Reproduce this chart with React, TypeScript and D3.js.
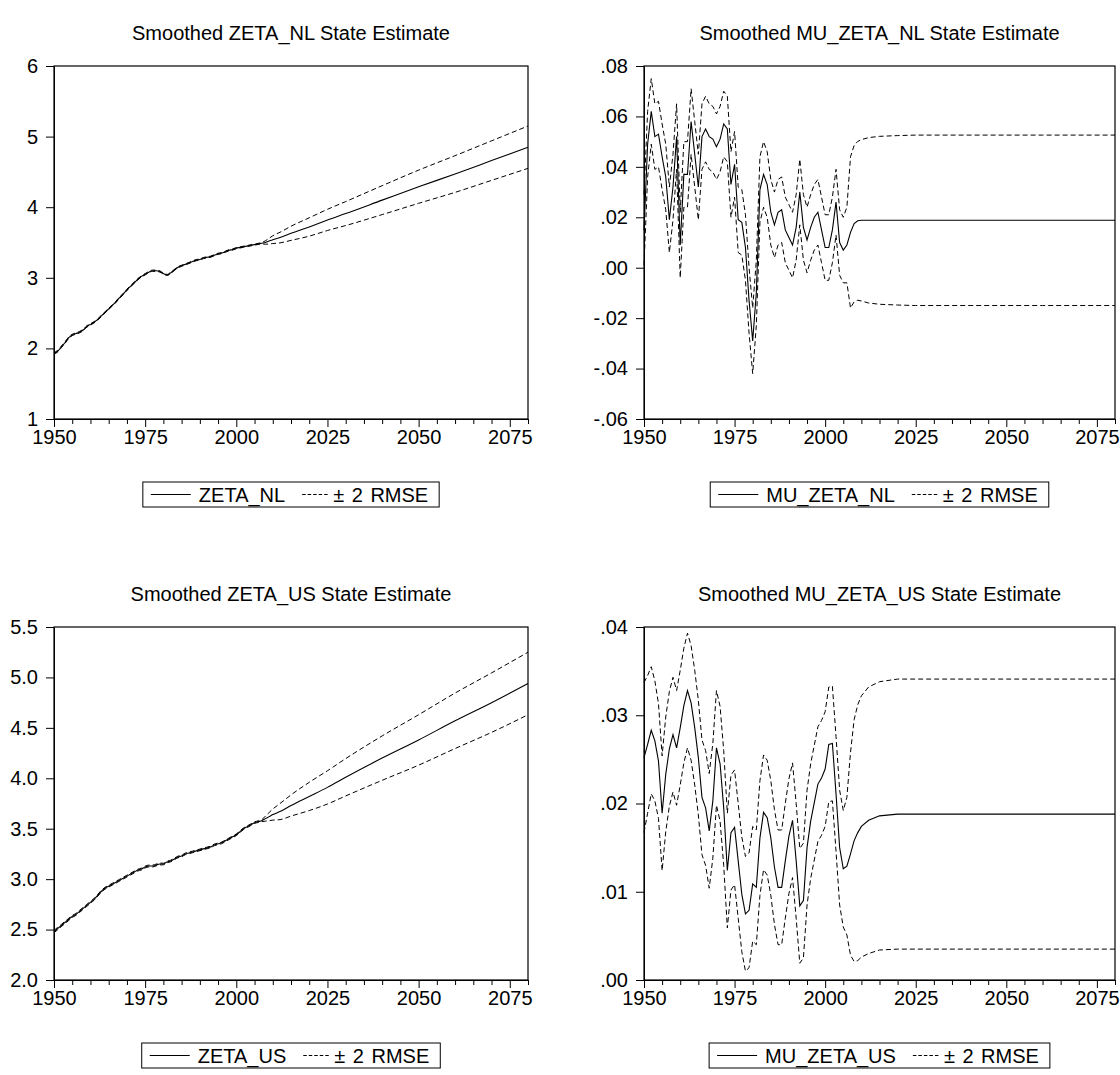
import React, { useEffect, useRef } from "react";
import * as d3 from "d3";

// annual smoothed history, then the forecast horizon
const histYears = d3.range(1950, 2009);
const forecastYears = [2009, 2010, 2012, 2015, 2020, 2025, 2030, 2040, 2050, 2060, 2070, 2080];
const years = histYears.concat(forecastYears);

const yearTicks = d3.range(1950, 2081, 5);
const yearLabels = [1950, 1975, 2000, 2025, 2050, 2075];

const zetaNlTicks = [1, 2, 3, 4, 5, 6];
const muZetaNlTicks = [-0.06, -0.04, -0.02, 0, 0.02, 0.04, 0.06, 0.08];
const zetaUsTicks = [2.0, 2.5, 3.0, 3.5, 4.0, 4.5, 5.0, 5.5];
const muZetaUsTicks = [0, 0.01, 0.02, 0.03, 0.04];

const zetaNl = [
  1.93, 1.96, 2.02, 2.08, 2.15, 2.19, 2.21, 2.23, 2.26, 2.31,
  2.34, 2.37, 2.41, 2.46, 2.51, 2.56, 2.61, 2.66, 2.72, 2.77,
  2.83, 2.88, 2.93, 2.98, 3.02, 3.05, 3.08, 3.10, 3.10, 3.09,
  3.06, 3.04, 3.07, 3.11, 3.15, 3.17, 3.19, 3.21, 3.23, 3.25,
  3.26, 3.28, 3.29, 3.30, 3.32, 3.34, 3.35, 3.37, 3.39, 3.40,
  3.42, 3.43, 3.44, 3.45, 3.46, 3.47, 3.48, 3.49, 3.50,
  3.52, 3.54, 3.57, 3.63, 3.72, 3.82, 3.91, 4.10, 4.29, 4.47, 4.66, 4.85,
];
const zetaNlRmse2 = [
  0.012, 0.012, 0.011, 0.011, 0.011, 0.010, 0.010, 0.010, 0.010, 0.010,
  0.009, 0.009, 0.009, 0.009, 0.009, 0.009, 0.009, 0.009, 0.009, 0.009,
  0.009, 0.009, 0.009, 0.009, 0.009, 0.009, 0.009, 0.009, 0.009, 0.009,
  0.008, 0.008, 0.008, 0.008, 0.008, 0.008, 0.008, 0.008, 0.008, 0.008,
  0.008, 0.008, 0.008, 0.008, 0.008, 0.008, 0.008, 0.008, 0.008, 0.008,
  0.008, 0.008, 0.008, 0.008, 0.008, 0.008, 0.008, 0.010, 0.025,
  0.04, 0.055, 0.075, 0.10, 0.13, 0.15, 0.17, 0.205, 0.235, 0.26, 0.28, 0.30,
];

const muZetaNl = [
  0.015, 0.049, 0.062, 0.052, 0.053, 0.044, 0.036, 0.019, 0.032, 0.052,
  0.009, 0.037, 0.037, 0.058, 0.045, 0.032, 0.052, 0.055, 0.052, 0.051,
  0.048, 0.051, 0.057, 0.055, 0.033, 0.041, 0.019, 0.018, 0.008, -0.013,
  -0.029, -0.010, 0.031, 0.037, 0.033, 0.022, 0.017, 0.022, 0.023, 0.015,
  0.012, 0.009, 0.016, 0.030, 0.016, 0.011, 0.016, 0.020, 0.022, 0.015,
  0.008, 0.008, 0.015, 0.026, 0.010, 0.007, 0.009, 0.014, 0.0175,
  0.0186, 0.0188, 0.0188, 0.0188, 0.0188, 0.0188, 0.0188, 0.0188, 0.0188, 0.0188, 0.0188, 0.0188,
];
const muZetaNlRmse2 = [
  0.014, 0.013, 0.013, 0.013, 0.013, 0.013, 0.013, 0.013, 0.013, 0.013,
  0.013, 0.013, 0.013, 0.013, 0.013, 0.013, 0.013, 0.013, 0.013, 0.013,
  0.013, 0.013, 0.013, 0.013, 0.013, 0.013, 0.013, 0.013, 0.013, 0.013,
  0.013, 0.013, 0.013, 0.013, 0.013, 0.013, 0.013, 0.013, 0.013, 0.013,
  0.013, 0.013, 0.013, 0.013, 0.013, 0.013, 0.013, 0.013, 0.013, 0.013,
  0.013, 0.013, 0.013, 0.013, 0.013, 0.013, 0.015, 0.030, 0.031,
  0.0315, 0.032, 0.0328, 0.0333, 0.0336, 0.0338, 0.0338, 0.0338, 0.0338, 0.0338, 0.0338, 0.0338,
];

const zetaUs = [
  2.48, 2.51, 2.54, 2.57, 2.60, 2.63, 2.65, 2.68, 2.71, 2.74,
  2.77, 2.80, 2.84, 2.88, 2.91, 2.93, 2.95, 2.97, 2.99, 3.01,
  3.03, 3.05, 3.07, 3.09, 3.10, 3.12, 3.13, 3.13, 3.14, 3.15,
  3.15, 3.17, 3.18, 3.20, 3.22, 3.23, 3.25, 3.26, 3.27, 3.28,
  3.29, 3.30, 3.31, 3.32, 3.34, 3.35, 3.36, 3.38, 3.40, 3.42,
  3.44, 3.47, 3.50, 3.52, 3.54, 3.56, 3.57, 3.58, 3.60,
  3.62, 3.64, 3.67, 3.73, 3.82, 3.91, 4.01, 4.20, 4.38, 4.57, 4.75, 4.94,
];
const zetaUsRmse2 = [
  0.012, 0.012, 0.011, 0.011, 0.011, 0.010, 0.010, 0.010, 0.010, 0.010,
  0.009, 0.009, 0.009, 0.009, 0.009, 0.009, 0.009, 0.009, 0.009, 0.009,
  0.009, 0.009, 0.009, 0.009, 0.009, 0.009, 0.009, 0.009, 0.009, 0.009,
  0.008, 0.008, 0.008, 0.008, 0.008, 0.008, 0.008, 0.008, 0.008, 0.008,
  0.008, 0.008, 0.008, 0.008, 0.008, 0.008, 0.008, 0.008, 0.008, 0.008,
  0.008, 0.008, 0.008, 0.008, 0.008, 0.008, 0.008, 0.010, 0.025,
  0.04, 0.055, 0.08, 0.105, 0.14, 0.165, 0.185, 0.22, 0.25, 0.275, 0.295, 0.31,
];

const muZetaUs = [
  0.0252, 0.0267, 0.0283, 0.0271, 0.0248, 0.0189, 0.0233, 0.0262, 0.0278, 0.0263,
  0.0286, 0.0311, 0.0328, 0.0314, 0.0286, 0.0252, 0.0207, 0.0195, 0.0169, 0.0203,
  0.0263, 0.0245, 0.0195, 0.0124, 0.0167, 0.0173, 0.0135, 0.0097, 0.0075, 0.0079,
  0.0109, 0.0105, 0.0161, 0.0190, 0.0184, 0.0161, 0.0128, 0.0105, 0.0105, 0.0135,
  0.0163, 0.0181, 0.0135, 0.0084, 0.0090, 0.0150, 0.0180, 0.0201, 0.0222, 0.0229,
  0.0239, 0.0267, 0.0268, 0.0211, 0.0150, 0.0126, 0.0129, 0.0143, 0.0158,
  0.0167, 0.0174, 0.0181, 0.0186, 0.0188, 0.0188, 0.0188, 0.0188, 0.0188, 0.0188, 0.0188, 0.0188,
];
const muZetaUsRmse2 = [
  0.0085, 0.0078, 0.0072, 0.0068, 0.0065, 0.0065, 0.0065, 0.0065, 0.0065, 0.0065,
  0.0065, 0.0065, 0.0065, 0.0065, 0.0065, 0.0065, 0.0065, 0.0065, 0.0065, 0.0065,
  0.0065, 0.0065, 0.0065, 0.0065, 0.0065, 0.0065, 0.0065, 0.0065, 0.0065, 0.0065,
  0.0065, 0.0065, 0.0065, 0.0065, 0.0065, 0.0065, 0.0065, 0.0065, 0.0065, 0.0065,
  0.0065, 0.0065, 0.0065, 0.0065, 0.0065, 0.0065, 0.0065, 0.0065, 0.0065, 0.0065,
  0.0065, 0.0065, 0.0065, 0.0065, 0.0065, 0.0066, 0.0078, 0.0115, 0.0137,
  0.0145, 0.0148, 0.0151, 0.0152, 0.0153, 0.0153, 0.0153, 0.0153, 0.0153, 0.0153, 0.0153, 0.0153,
];

const FONT = "'Liberation Sans', Arial, Helvetica, sans-serif";

const intFmt = (d) => String(d);
const oneFmt = (d) => d.toFixed(1);
const dotFmt = (d) => d.toFixed(2).replace(/^(-?)0\./, "$1.");

// panel layout (pixels)
const panels = [
  { title: "Smoothed ZETA_NL State Estimate", name: "ZETA_NL", values: zetaNl, band: zetaNlRmse2,
    yDomain: [1, 6], yTicks: zetaNlTicks, fmt: intFmt, smooth: true,
    left: 54, right: 528, top: 66, bottom: 419 },
  { title: "Smoothed MU_ZETA_NL State Estimate", name: "MU_ZETA_NL", values: muZetaNl, band: muZetaNlRmse2,
    yDomain: [-0.06, 0.08], yTicks: muZetaNlTicks, fmt: dotFmt, smooth: false,
    left: 644, right: 1115, top: 66, bottom: 419 },
  { title: "Smoothed ZETA_US State Estimate", name: "ZETA_US", values: zetaUs, band: zetaUsRmse2,
    yDomain: [2, 5.5], yTicks: zetaUsTicks, fmt: oneFmt, smooth: true,
    left: 54, right: 528, top: 627, bottom: 980 },
  { title: "Smoothed MU_ZETA_US State Estimate", name: "MU_ZETA_US", values: muZetaUs, band: muZetaUsRmse2,
    yDomain: [0, 0.04], yTicks: muZetaUsTicks, fmt: dotFmt, smooth: false,
    left: 644, right: 1115, top: 627, bottom: 980 },
];

function drawPanel(svg, p) {
  const x = d3.scaleLinear().domain([1950, 2080]).range([p.left, p.right]);
  const y = d3.scaleLinear().domain(p.yDomain).range([p.bottom, p.top]);
  const g = svg.append("g").style("font-family", FONT);

  // title
  g.append("text")
    .attr("x", (p.left + p.right) / 2)
    .attr("y", p.top - 26)
    .attr("text-anchor", "middle")
    .style("font-size", "20px")
    .attr("fill", "#000")
    .text(p.title);

  // y axis
  const yAxis = g.append("g")
    .attr("transform", `translate(${p.left},0)`)
    .call(d3.axisLeft(y).tickValues(p.yTicks).tickSize(8).tickPadding(8).tickSizeOuter(0).tickFormat(p.fmt));
  yAxis.attr("font-family", FONT).attr("font-size", 20);
  yAxis.selectAll(".tick text").attr("fill", "#000");
  yAxis.selectAll(".tick line").attr("stroke", "#000");

  // x axis: minor every 5 years, labelled every 25
  const xAxis = g.append("g")
    .attr("transform", `translate(0,${p.bottom})`)
    .call(d3.axisBottom(x).tickValues(yearTicks).tickSize(8).tickPadding(2.5).tickSizeOuter(0)
      .tickFormat((d) => (yearLabels.includes(d) ? String(d) : "")));
  xAxis.attr("font-family", FONT).attr("font-size", 20);
  xAxis.selectAll(".tick line").attr("stroke", "#000").attr("y2", (d) => (yearLabels.includes(d) ? 8 : 5));
  xAxis.selectAll(".tick text").attr("fill", "#000");

  // frame
  g.append("rect")
    .attr("x", p.left)
    .attr("y", p.top)
    .attr("width", p.right - p.left)
    .attr("height", p.bottom - p.top)
    .attr("fill", "none")
    .attr("stroke", "#000")
    .attr("stroke-width", 1.2);

  const line = d3.line()
    .x((d, i) => x(years[i]))
    .y((d) => y(d))
    .curve(p.smooth ? d3.curveMonotoneX : d3.curveLinear);

  const upper = p.values.map((v, i) => v + p.band[i]);
  const lower = p.values.map((v, i) => v - p.band[i]);

  [upper, lower].forEach((s) => {
    g.append("path")
      .attr("d", line(s))
      .attr("fill", "none")
      .attr("stroke", "#000")
      .attr("stroke-width", 1)
      .attr("stroke-dasharray", "5,3");
  });

  g.append("path")
    .attr("d", line(p.values))
    .attr("fill", "none")
    .attr("stroke", "#000")
    .attr("stroke-width", 1.1);

  // legend box under the axis
  const lg = g.append("g").style("font-size", "20px");
  const box = lg.append("rect")
    .attr("y", 0)
    .attr("height", 25)
    .attr("fill", "#fff")
    .attr("stroke", "#000")
    .attr("stroke-width", 1);
  lg.append("line").attr("x1", 8).attr("x2", 48).attr("y1", 12.5).attr("y2", 12.5)
    .attr("stroke", "#000").attr("stroke-width", 1);
  const t1 = lg.append("text").attr("x", 56).attr("y", 19.5).attr("fill", "#000").text(p.name);
  const w1 = t1.node().getComputedTextLength();
  const dx = 56 + w1 + 17;
  lg.append("line").attr("x1", dx).attr("x2", dx + 27).attr("y1", 12.5).attr("y2", 12.5)
    .attr("stroke", "#000").attr("stroke-width", 1).attr("stroke-dasharray", "3.5,2");
  const t2 = lg.append("text").attr("x", dx + 31).attr("y", 19.5).attr("fill", "#000")
    .style("word-spacing", "2px").text("± 2 RMSE");
  const total = dx + 31 + t2.node().getComputedTextLength() + 11;
  box.attr("width", total);
  lg.attr("transform", `translate(${(p.left + p.right) / 2 - total / 2},${p.bottom + 63})`);
}

const App = () => {
  const svgRef = useRef(null);

  useEffect(() => {
    const svg = d3.select(svgRef.current);
    svg.selectAll("*").remove();
    panels.forEach((p) => drawPanel(svg, p));
  }, []);

  return (
    <svg
      ref={svgRef}
      width={1120}
      height={1075}
      style={{ position: "absolute", left: 0, top: 0, background: "#fff", display: "block" }}
    />
  );
};

export default App;
